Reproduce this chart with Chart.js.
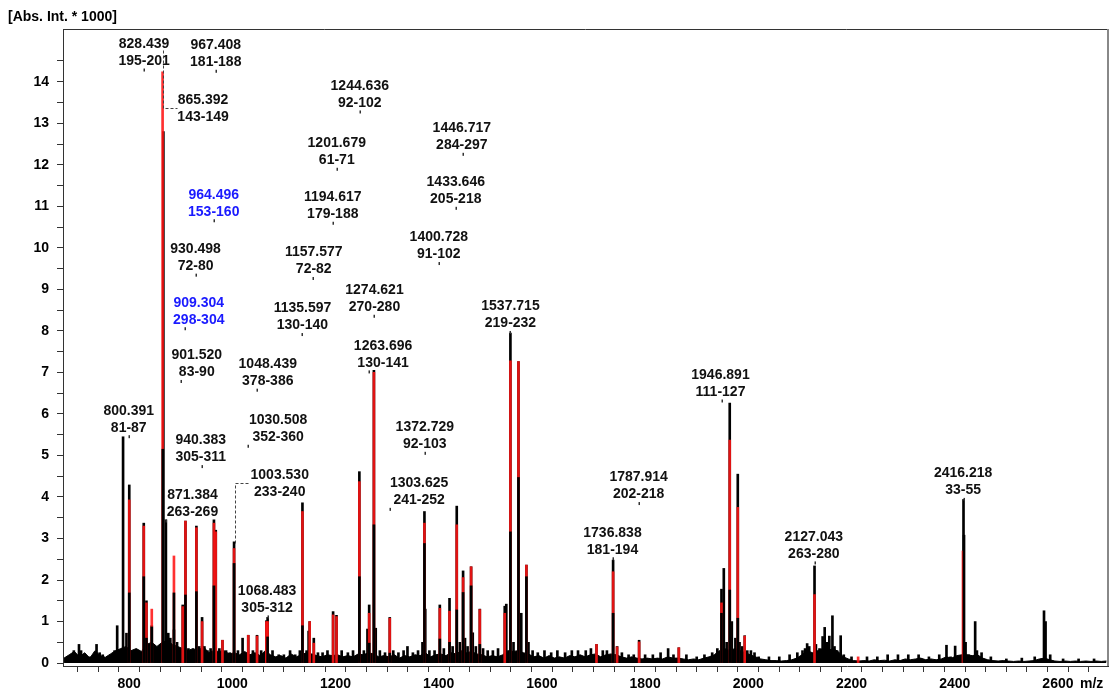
<!DOCTYPE html>
<html>
<head>
<meta charset="utf-8">
<script src="https://cdn.jsdelivr.net/npm/chart.js@4.4.0/dist/chart.umd.min.js"></script>
<style>
  html, body { margin: 0; padding: 0; background: #fff; }
  #spec { display: block; }
</style>
</head>
<body>
<canvas id="spec" width="1110" height="693"></canvas>
<script>
// --- spectrum data (m/z, intensity in thousands) ---
const rawPeaks = [
  [693,0.3],[703,0.45],[707,0.3],[724,0.15],[737,0.45],[743,0.25],[749,0.2],[758,0.15],[772,0.3],[777,0.9],
  [782,0.25],[788.4,5.45],[795,0.72],[800.4,4.29],[806,0.3],[812,0.25],[818,0.3],[828.5,3.37],[833.7,1.5],[839,0.4],
  [844,0.9],[850,0.4],[855,0.35],[866.5,12.8],[871.4,3.45],[876,0.72],[880,0.6],[887,0.8],[893,0.5],[898,0.35],
  [904,1.4],[909.3,3.42],[915,0.35],[921,0.3],[930.5,3.3],[936,0.4],[941.5,1.1],[946,0.4],[952,0.3],[958,0.35],
  [964.5,3.45],[968,3.2],[975,0.35],[981,0.55],[988,0.3],[995,0.25],[1003.5,2.92],[1011,0.3],[1020,0.6],[1031,0.67],
  [1040,0.3],[1048,0.67],[1056,0.3],[1066,1.02],[1068.5,1.1],[1078,0.3],[1090,0.2],[1100,0.2],[1112,0.3],[1122,0.2],
  [1131,0.3],[1136,3.86],[1144,0.3],[1148,0.77],[1150,1.0],[1158,0.6],[1166,0.25],[1175,0.25],[1184.5,0.3],[1195.4,1.24],
  [1202,1.15],[1212,0.3],[1224,0.25],[1234,0.3],[1246.3,4.61],[1255,0.3],[1262,0.82],[1265.3,1.4],[1274.5,7.05],[1278,0.84],
  [1286,0.3],[1296,0.25],[1305.2,1.1],[1312,0.3],[1322,0.25],[1332,0.3],[1339.5,0.4],[1350,0.25],[1360,0.3],[1368.6,0.5],
  [1372.4,3.65],[1374,1.3],[1382,0.3],[1392,0.3],[1402.2,1.4],[1410,0.35],[1421,1.56],[1427,0.4],[1435,3.78],[1441,0.5],
  [1447.3,2.22],[1451,0.6],[1456,0.4],[1462.8,2.32],[1466,0.73],[1472,0.4],[1479.7,1.3],[1486,0.35],[1495,0.3],[1505,0.3],
  [1515,0.35],[1528,1.37],[1531,1.42],[1539,7.95],[1545,0.5],[1554.6,7.26],[1560,1.2],[1570,2.36],[1574,0.5],[1582,0.3],
  [1592,0.25],[1605,0.3],[1618,0.25],[1630,0.3],[1645,0.25],[1658,0.3],[1670,0.3],[1685,0.3],[1695,0.35],[1705.8,0.45],
  [1718,0.3],[1726,0.3],[1738,2.48],[1745.7,0.4],[1755,0.25],[1768,0.2],[1778,0.2],[1788.4,0.55],[1800,0.2],[1815,0.2],
  [1830,0.25],[1844.6,0.35],[1855,0.2],[1865.3,0.37],[1880,0.2],[1900,0.15],[1915,0.2],[1930,0.25],[1940,0.35],[1948,1.78],
  [1952.5,2.28],[1958,0.5],[1964,6.26],[1968,1.0],[1975,0.6],[1979.6,4.55],[1983,0.5],[1988,0.4],[1993,0.66],[1998,0.3],
  [2005,0.3],[2012,0.25],[2020,0.15],[2040,0.15],[2060,0.15],[2080,0.2],[2095,0.25],[2105,0.3],[2110,0.35],[2114,0.47],
  [2118,0.4],[2128.3,2.34],[2131,0.45],[2138,0.35],[2144,0.64],[2148,0.86],[2152,0.5],[2157,0.65],[2163,1.14],[2167,0.4],
  [2172,0.3],[2179,0.66],[2185,0.2],[2200,0.15],[2230,0.15],[2250,0.15],[2270,0.2],[2290,0.2],[2310,0.2],[2330,0.2],
  [2350,0.15],[2370,0.2],[2384,0.43],[2392,0.15],[2400.8,0.41],[2417,3.94],[2421,0.5],[2427,0.2],[2439.6,1.0],[2443,0.3],
  [2452,0.25],[2470,0.15],[2500,0.1],[2530,0.12],[2555,0.15],[2573,1.26],[2576,1.0],[2585,0.2],[2610,0.1],[2640,0.1],[2670,0.1]
];

// assigned peaks (red)
const matchedPeaks = [
  [800.4,3.93],[828.5,3.3],[833.7,1.45],[844,1.3],[865,14.24],[887,2.58],[904,1.36],[909.3,3.42],[930.5,3.26],[941.5,1.0],
  [964.5,3.37],[968,3.16],[981,0.55],[1003.5,2.76],[1031,0.67],[1048,0.65],[1066,1.0],[1068.5,1.0],[1136,3.65],[1150,1.0],
  [1158,0.48],[1195.4,1.16],[1202,1.12],[1246.3,4.37],[1265.3,1.2],[1274.5,7.0],[1305.2,1.08],[1372.4,3.37],[1402.2,1.32],[1421,1.25],
  [1435,3.33],[1447.3,2.06],[1462.8,2.32],[1479.7,1.29],[1528,1.2],[1539,7.28],[1554.6,7.26],[1570,2.36],[1705.8,0.45],[1738,2.2],
  [1745.7,0.39],[1788.4,0.51],[1865.3,0.37],[1948,1.45],[1964,5.37],[1979.6,3.75],[1993,0.65],[2128.3,1.65],[2212.8,0.15],[2416,2.7]
];

// black isotope cores drawn over the red sticks
const isotopeCores = [
  [800.4,1.69],[828.5,2.08],[833.7,0.6],[844,0.87],[865.4,5.15],[887,1.69],[909.3,1.64],[930.5,1.72],[964.5,1.86],[1003.5,2.4],
  [1068.5,0.63],[1136,0.9],[1246.3,2.08],[1265.3,0.48],[1274.5,3.33],[1305.2,0.24],[1372.4,2.88],[1402.2,0.58],[1421,0.5],[1435,1.28],
  [1447.3,1.7],[1462.8,1.86],[1479.7,0.45],[1539,3.16],[1554.6,4.47],[1570,2.08],[1738,1.2],[1948,1.2],[1964,1.76],[1979.6,1.08],[2418,3.08]
];

// noise floor
const baselineMz = [
  674,684,694,704,714,724,734,744,754,764,774,784,794,804,814,824,834,844,854,864,
  874,884,894,904,914,924,934,944,954,964,974,984,994,1004,1014,1024,1034,1044,1054,1064,
  1074,1084,1094,1104,1114,1124,1134,1144,1154,1164,1174,1184,1194,1204,1214,1224,1234,1244,1254,1264,
  1274,1284,1294,1304,1314,1324,1334,1344,1354,1364,1374,1384,1394,1404,1414,1424,1434,1444,1454,1464,
  1474,1484,1494,1504,1514,1524,1534,1544,1554,1564,1574,1584,1594,1604,1614,1624,1634,1644,1654,1664,
  1674,1684,1694,1704,1714,1724,1734,1744,1754,1764,1774,1784,1794,1804,1814,1824,1834,1844,1854,1864,
  1874,1884,1894,1904,1914,1924,1934,1944,1954,1964,1974,1984,1994,2004,2014,2024,2034,2044,2054,2064,
  2074,2084,2094,2104,2114,2124,2134,2144,2154,2164,2174,2184,2194,2204,2214,2224,2234,2244,2254,2264,
  2274,2284,2294,2304,2314,2324,2334,2344,2354,2364,2374,2384,2394,2404,2414,2424,2434,2444,2454,2464,
  2474,2484,2494,2504,2514,2524,2534,2544,2554,2564,2574,2584,2594,2604,2614,2624,2634,2644,2654,2664,
  2674,2684,2694
];
const baselineInt = [
  0.12,0.2,0.28,0.15,0.25,0.12,0.3,0.18,0.14,0.22,0.3,0.35,0.4,0.3,0.35,0.28,0.45,0.5,0.4,0.5,
  0.55,0.45,0.4,0.35,0.3,0.35,0.3,0.4,0.25,0.3,0.28,0.3,0.22,0.25,0.2,0.28,0.2,0.25,0.18,0.3,
  0.2,0.15,0.18,0.12,0.22,0.15,0.2,0.25,0.22,0.18,0.15,0.2,0.18,0.2,0.15,0.18,0.15,0.22,0.2,0.25,
  0.22,0.15,0.18,0.15,0.2,0.12,0.18,0.15,0.2,0.18,0.25,0.15,0.2,0.22,0.18,0.25,0.22,0.3,0.25,0.28,
  0.22,0.2,0.15,0.18,0.15,0.2,0.3,0.28,0.3,0.25,0.22,0.15,0.18,0.12,0.18,0.12,0.15,0.12,0.18,0.15,
  0.2,0.15,0.2,0.22,0.15,0.2,0.22,0.2,0.15,0.12,0.15,0.12,0.1,0.12,0.1,0.12,0.1,0.15,0.12,0.12,
  0.1,0.08,0.1,0.08,0.12,0.15,0.2,0.3,0.35,0.3,0.35,0.3,0.25,0.2,0.15,0.1,0.08,0.06,0.06,0.05,
  0.06,0.08,0.12,0.2,0.3,0.25,0.3,0.35,0.3,0.35,0.28,0.15,0.1,0.06,0.05,0.06,0.05,0.08,0.06,0.07,
  0.05,0.08,0.06,0.1,0.08,0.1,0.12,0.08,0.1,0.08,0.1,0.15,0.12,0.18,0.2,0.2,0.18,0.2,0.12,0.08,
  0.06,0.05,0.06,0.05,0.04,0.05,0.04,0.05,0.06,0.1,0.12,0.08,0.05,0.04,0.05,0.04,0.05,0.04,0.05,0.04,
  0.05,0.04,0.05
];

// --- peak annotations ---
const labelMass = ['828.439','967.408','865.392','1244.636','1201.679','1446.717','1433.646','964.496','1194.617','1400.728',
  '930.498','1157.577','1274.621','1537.715','1135.597','909.304','901.520','1263.696','1048.439','1946.891',
  '800.391','1030.508','1372.729','940.383','1787.914','2416.218','1003.530','1303.625','871.384','1736.838',
  '2127.043','1068.483'];
const labelRange = ['195-201','181-188','143-149','92-102','61-71','284-297','205-218','153-160','179-188','91-102',
  '72-80','72-82','270-280','219-232','130-140','298-304','83-90','130-141','378-386','111-127',
  '81-87','352-360','92-103','305-311','202-218','33-55','233-240','241-252','263-269','181-194',
  '263-280','305-312'];
// centre of label text (m/z)
const labelAt = [829.1,968.0,943.4,1247.1,1202.5,1444.8,1433.1,964.1,1194.8,1400.2,
  928.9,1157.9,1275.6,1539.1,1136.0,935.1,931.2,1292.2,1068.8,1946.1,
  799.4,1088.8,1373.1,939.0,1787.4,2416.3,1092.0,1362.0,922.9,1736.8,
  2126.9,1067.4];
// level of the marker under each label (intensity)
const labelLevel = [14.27,14.24,12.92,13.26,11.88,12.24,10.94,10.64,10.58,9.61,
  9.33,9.25,8.34,7.95,7.9,8.04,6.77,7.0,6.56,6.3,
  5.44,5.21,5.04,4.72,3.83,3.93,3.9,3.69,3.41,2.5,
  2.4,1.1];
// marker position (m/z), null = no marker
const labelMark = [829.1,968.0,null,1247.1,1202.5,1446.7,1433.1,965.5,1194.8,1400.2,
  930.6,1157.4,1275.6,1539.1,1136.0,909.3,901.6,1265.1,1048.1,1948.1,
  800.0,1030.6,1374.4,941.5,1788.4,2417.6,null,1305.2,871.1,1738.0,
  2128.3,1069.4];
const blueLabels = ['964.496','909.304'];

// dashed leader lines [m/z, intensity]
const leaders = [
  [[865.5,14.77],[865.5,13.37],[892.4,13.37]],
  [[1004.9,2.89],[1004.9,4.33],[1035.3,4.33]]
];

const xMajor = [800,1000,1200,1400,1600,1800,2000,2200,2400,2600];
const xMinorStep = 40;
const yMajor = [0,1,2,3,4,5,6,7,8,9,10,11,12,13,14];

const FONT = '"Liberation Sans", Arial, sans-serif';
Chart.defaults.font.family = FONT;

const toXY = arr => arr.map(p => ({ x: p[0], y: p[1] }));

const annotate = {
  id: 'annotate',
  afterDatasetsDraw(chart) {
    const { ctx, scales: { x, y } } = chart;
    ctx.save();
    ctx.font = 'bold 14px ' + FONT;
    ctx.textAlign = 'center';
    ctx.textBaseline = 'middle';
    labelMass.forEach((m, i) => {
      const px = x.getPixelForValue(labelAt[i]);
      const py = y.getPixelForValue(labelLevel[i]);
      ctx.fillStyle = blueLabels.includes(m) ? '#1a1aff' : '#111';
      ctx.fillText(m, px, py - 26.5);
      ctx.fillText(labelRange[i], px, py - 9.5);
      if (labelMark[i] !== null) {
        ctx.fillStyle = '#333';
        ctx.fillRect(Math.round(x.getPixelForValue(labelMark[i])) - 0.5, py - 2, 1.5, 3);
      }
    });
    ctx.strokeStyle = '#444';
    ctx.lineWidth = 1;
    ctx.setLineDash([3, 2]);
    leaders.forEach(pts => {
      ctx.beginPath();
      pts.forEach((p, j) => {
        const px = Math.round(x.getPixelForValue(p[0])) + 0.5;
        const py = Math.round(y.getPixelForValue(p[1])) + 0.5;
        j ? ctx.lineTo(px, py) : ctx.moveTo(px, py);
      });
      ctx.stroke();
    });
    ctx.setLineDash([]);

    // frame
    const a = chart.chartArea;
    ctx.strokeStyle = '#333';
    ctx.beginPath();
    ctx.moveTo(a.left, a.top + 0.5);
    ctx.lineTo(a.right, a.top + 0.5);
    ctx.stroke();
    ctx.strokeStyle = '#888';
    ctx.lineWidth = 2;
    ctx.beginPath();
    ctx.moveTo(a.right, a.top);
    ctx.lineTo(a.right, a.bottom);
    ctx.stroke();

    // axis captions
    ctx.fillStyle = '#000';
    ctx.textAlign = 'left';
    ctx.fillText('[Abs. Int. * 1000]', 8, 17);
    ctx.fillText('m/z', 1080, 684);
    ctx.restore();
  }
};

const barOpts = { type: 'bar', grouped: false, barThickness: 2, borderWidth: 0 };

new Chart(document.getElementById('spec'), {
  type: 'bar',
  data: {
    datasets: [
      { type: 'line', data: baselineMz.map((m, i) => ({ x: m, y: baselineInt[i] })),
        borderColor: '#000', backgroundColor: '#000', borderWidth: 1, pointRadius: 0,
        fill: 'origin', tension: 0, order: 4 },
      { ...barOpts, data: toXY(rawPeaks), backgroundColor: '#000', order: 3 },
      { ...barOpts, data: toXY(matchedPeaks), backgroundColor: 'rgba(255,20,20,0.88)', order: 2 },
      { ...barOpts, data: toXY(isotopeCores), backgroundColor: '#000', order: 1 }
    ]
  },
  options: {
    responsive: false,
    animation: false,
    layout: { padding: { top: 29, right: 2, left: 0, bottom: 0 } },
    plugins: { legend: { display: false }, tooltip: { enabled: false } },
    scales: {
      x: {
        type: 'linear', min: 672, max: 2697, offset: false,
        grid: { drawOnChartArea: false, tickLength: 6, color: '#333' },
        border: { color: '#333' },
        afterBuildTicks: s => {
          const t = [];
          for (let v = xMajor[0] - 3 * xMinorStep; v <= 2680; v += xMinorStep) t.push({ value: v });
          s.ticks = t;
        },
        ticks: { autoSkip: false, maxRotation: 0, padding: 4, color: '#000',
          font: { size: 14, weight: 'bold' },
          callback: v => xMajor.includes(v) ? String(v) : '' },
        afterFit: s => { s.height = 27; }
      },
      y: {
        min: -0.07, max: 15.27,
        grid: { drawOnChartArea: false, tickLength: 6, color: '#333' },
        border: { color: '#333' },
        afterBuildTicks: s => {
          const t = [];
          yMajor.forEach(v => { t.push({ value: v }); t.push({ value: v + 0.5 }); });
          s.ticks = t;
        },
        ticks: { autoSkip: false, padding: 8, color: '#000',
          font: { size: 14, weight: 'bold' },
          callback: v => yMajor.includes(v) ? String(v) : '' },
        afterFit: s => { s.width = 63; }
      }
    }
  },
  plugins: [annotate]
});
</script>
</body>
</html>
